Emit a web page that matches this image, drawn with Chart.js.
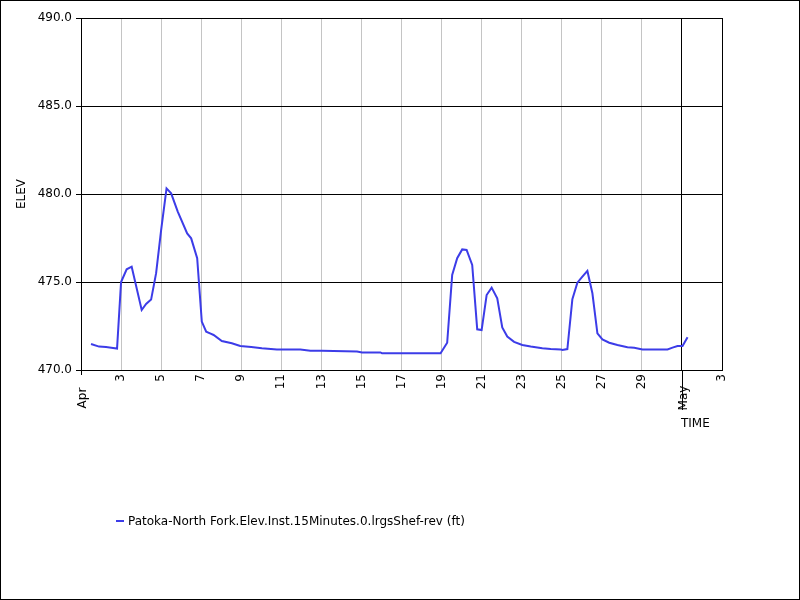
<!DOCTYPE html>
<html>
<head>
<meta charset="utf-8">
<script src="https://cdn.jsdelivr.net/npm/chart.js@4.4.1/dist/chart.umd.min.js"></script>
<style>
  html, body { margin: 0; padding: 0; background: #fff; }
  #wrap { width: 800px; height: 600px; }
</style>
</head>
<body>
<div id="wrap"><canvas id="chart" width="800" height="600"></canvas></div>
<script>
// time as day of April (Apr 1 = 1, May 1 = 31)
const days = [
  1.5, 1.9, 2.25, 2.6, 2.8, 3.0, 3.28, 3.53, 4.03, 4.25, 4.5, 4.75, 5.0, 5.27, 5.5, 5.83,
  6.3, 6.5, 6.8, 7.03, 7.25, 7.5, 7.62, 8.03, 8.53, 8.95, 9.5, 10.03, 10.78, 11.95, 12.45,
  13.03, 14.78, 15.03, 15.95, 16.03, 18.95, 19.28, 19.53, 19.78, 20.03, 20.25, 20.53, 20.78,
  21.0, 21.25, 21.5, 21.78, 22.03, 22.28, 22.62, 23.03, 23.45, 24.03, 24.45, 24.95, 25.03,
  25.28, 25.53, 25.78, 26.03, 26.28, 26.53, 26.78, 27.03, 27.37, 27.78, 28.28, 28.62, 29.03,
  30.28, 30.53, 30.78, 31.03, 31.28
];
const elev = [
  471.48, 471.33, 471.3, 471.25, 471.22, 475.0, 475.72, 475.87, 473.41, 473.75, 474.0, 475.5,
  477.95, 480.32, 480.04, 479.0, 477.76, 477.48, 476.35, 472.75, 472.18, 472.05, 471.99,
  471.65, 471.52, 471.36, 471.3, 471.23, 471.16, 471.16, 471.1, 471.1, 471.05, 471.0, 471.0,
  470.95, 470.95, 471.55, 475.4, 476.35, 476.85, 476.82, 475.97, 472.31, 472.27, 474.26,
  474.68, 474.07, 472.42, 471.9, 471.6, 471.42, 471.33, 471.23, 471.19, 471.17, 471.14,
  471.19, 474.02, 474.96, 475.3, 475.63, 474.36, 472.08, 471.74, 471.55, 471.42, 471.29,
  471.27, 471.17, 471.17, 471.27, 471.36, 471.36, 471.86
];

const xTickDays = [1, 3, 5, 7, 9, 11, 13, 15, 17, 19, 21, 23, 25, 27, 29, 31, 33];
const xTickLabels = ['', '3', '5', '7', '9', '11', '13', '15', '17', '19', '21', '23', '25', '27', '29', '', '3'];
const monthDays = [1, 31];
const monthNames = ['Apr', 'May'];

const seriesName = 'Patoka-North Fork.Elev.Inst.15Minutes.0.lrgsShef-rev (ft)';
const lineColor = 'rgb(60,60,232)';

Chart.defaults.font.family = 'DejaVu Sans';
Chart.defaults.font.size = 12;
Chart.defaults.color = '#000';

const extras = {
  id: 'extras',
  beforeDraw(chart) {
    const ctx = chart.ctx;
    ctx.save();
    ctx.fillStyle = '#fff';
    ctx.fillRect(0, 0, chart.width, chart.height);
    ctx.restore();
  },
  afterDraw(chart) {
    const ctx = chart.ctx;
    const a = chart.chartArea;
    const xs = chart.scales.x;
    ctx.save();
    ctx.strokeStyle = '#000';
    ctx.lineWidth = 1;
    // plot box
    ctx.strokeRect(Math.round(a.left) + 0.5, Math.round(a.top) + 0.5,
      Math.round(a.right - a.left), Math.round(a.bottom - a.top));
    // outer frame
    ctx.strokeRect(0.5, 0.5, chart.width - 1, chart.height - 1);

    // month markers
    ctx.fillStyle = '#000';
    ctx.font = '12px "DejaVu Sans"';
    monthDays.forEach((d, i) => {
      const px = Math.round(xs.getPixelForValue(d)) + 0.5;
      ctx.beginPath();
      ctx.moveTo(px, a.bottom);
      ctx.lineTo(px, a.bottom + (i === 0 ? 5 : 40));
      ctx.stroke();
      ctx.save();
      ctx.translate(px + 1, a.bottom + 28);
      ctx.rotate(-Math.PI / 2);
      ctx.textAlign = 'center';
      ctx.textBaseline = 'middle';
      ctx.fillText(monthNames[i], 0, 0);
      ctx.restore();
    });

    // axis titles
    ctx.textBaseline = 'middle';
    ctx.textAlign = 'left';
    ctx.fillText('TIME', 681, 424);
    ctx.save();
    ctx.translate(22, (a.top + a.bottom) / 2);
    ctx.rotate(-Math.PI / 2);
    ctx.textAlign = 'center';
    ctx.fillText('ELEV', 0, 0);
    ctx.restore();

    // legend
    ctx.strokeStyle = lineColor;
    ctx.lineWidth = 2;
    ctx.beginPath();
    ctx.moveTo(116, 521);
    ctx.lineTo(124, 521);
    ctx.stroke();
    ctx.fillStyle = '#000';
    ctx.textAlign = 'left';
    ctx.fillText(seriesName, 128, 522);
    ctx.restore();
  }
};

new Chart(document.getElementById('chart'), {
  type: 'line',
  data: {
    datasets: [{
      label: seriesName,
      data: days.map((d, i) => ({ x: d, y: elev[i] })),
      borderColor: lineColor,
      borderWidth: 2,
      pointRadius: 0,
      tension: 0,
      fill: false,
    }],
  },
  options: {
    responsive: false,
    animation: false,
    layout: { padding: { top: 18, right: 78, left: 0, bottom: 0 } },
    plugins: {
      legend: { display: false },
      tooltip: { enabled: false },
    },
    scales: {
      x: {
        type: 'linear',
        min: 1,
        max: 33,
        afterBuildTicks: scale => {
          scale.ticks = xTickDays.map(v => ({ value: v }));
        },
        afterFit: scale => { scale.height = 230; },
        ticks: {
          autoSkip: false,
          minRotation: 90,
          maxRotation: 90,
          padding: 4,
          callback: (v) => xTickLabels[xTickDays.indexOf(v)],
        },
        grid: {
          drawTicks: false,
          color: ctx => {
            const v = ctx.tick && ctx.tick.value;
            return (v === 1 || v === 31 || v === 33) ? '#000' : '#c4c4c4';
          },
        },
        border: { color: '#000' },
      },
      y: {
        min: 470,
        max: 490,
        afterFit: scale => { scale.width = 81; },
        ticks: {
          stepSize: 5,
          padding: 4,
          callback: v => v.toFixed(1),
        },
        grid: { color: '#000', tickLength: 5 },
        border: { color: '#000' },
      },
    },
  },
  plugins: [extras],
});
</script>
</body>
</html>
